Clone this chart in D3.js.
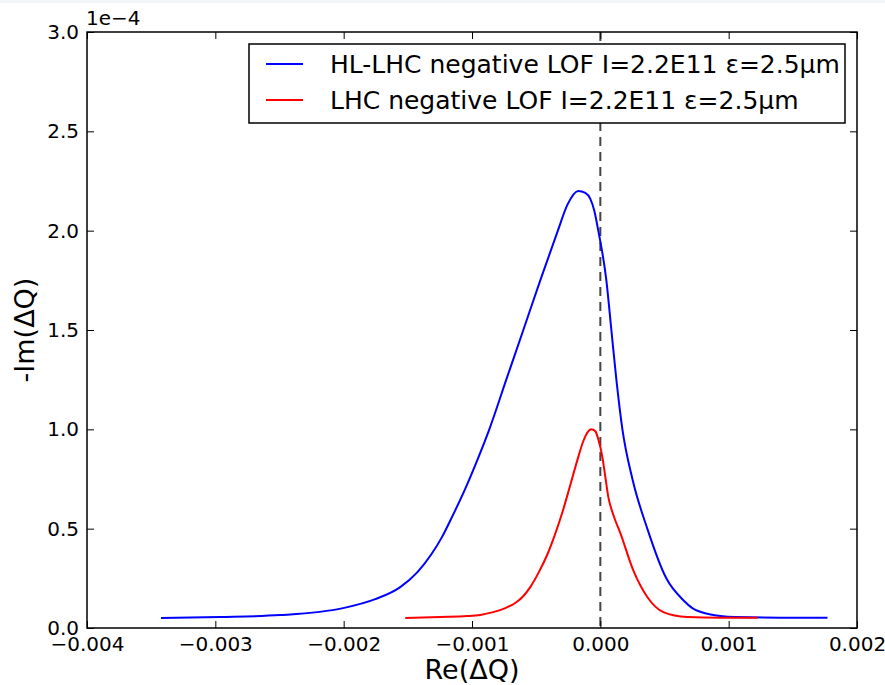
<!DOCTYPE html>
<html>
<head>
<meta charset="utf-8">
<script src="https://cdn.jsdelivr.net/npm/d3@7/dist/d3.min.js"></script>
<style>
  body { margin: 0; background: #fff; }
  text { font-family: "DejaVu Sans", sans-serif; fill: #000; }
</style>
</head>
<body>
<div id="chart"></div>
<script>
// HL-LHC curve: Re(dQ), -Im(dQ) in units of 1e-4
const hlRe = [-0.003423, -0.002963, -0.002495, -0.002004, -0.001754, -0.001559, -0.001427, -0.001318,
  -0.001232, -0.001170, -0.001053, -0.000943, -0.000865, -0.000733, -0.000600, -0.000468, -0.000331,
  -0.000257, -0.000172, -0.000117, -0.000078, -0.000047, -0.000016, 0.000047, 0.000086, 0.000125,
  0.000172, 0.000250, 0.000366, 0.000514, 0.000647, 0.000717, 0.000842, 0.000936, 0.001053, 0.001404,
  0.001770];
const hlIm = [0.050, 0.055, 0.065, 0.100, 0.145, 0.206, 0.280, 0.370,
  0.460, 0.540, 0.700, 0.870, 1.000, 1.250, 1.500, 1.750, 2.000,
  2.130, 2.200, 2.190, 2.160, 2.100, 2.000, 1.750, 1.500, 1.250,
  1.000, 0.750, 0.500, 0.250, 0.140, 0.100, 0.070, 0.060, 0.055, 0.052,
  0.052];

// LHC curve
const lhcRe = [-0.001520, -0.001248, -0.001037, -0.000936, -0.000835, -0.000741, -0.000663, -0.000601,
  -0.000546, -0.000480, -0.000413, -0.000351, -0.000292, -0.000234, -0.000179, -0.000133, -0.000094,
  -0.000070, -0.000039, -0.000016, 0.000016, 0.000039, 0.000062, 0.000101, 0.000156, 0.000257,
  0.000366, 0.000491, 0.000678, 0.000936, 0.001224];
const lhcIm = [0.050, 0.055, 0.060, 0.066, 0.080, 0.100, 0.126, 0.160,
  0.206, 0.280, 0.370, 0.475, 0.590, 0.720, 0.845, 0.940, 0.990,
  1.000, 0.990, 0.950, 0.860, 0.760, 0.660, 0.570, 0.478, 0.290,
  0.156, 0.080, 0.055, 0.051, 0.051];

const xTicks = [-0.004, -0.003, -0.002, -0.001, 0.000, 0.001, 0.002];
const yTicks = [0.0, 0.5, 1.0, 1.5, 2.0, 2.5, 3.0];
const labels = ["HL-LHC negative LOF I=2.2E11 \u03b5=2.5\u00b5m", "LHC negative LOF I=2.2E11 \u03b5=2.5\u00b5m"];
const colors = ["#0000ff", "#ff0000"];

const W = 885, H = 685;
const margin = {top: 32, right: 28, bottom: 57, left: 87};
const width = W - margin.left - margin.right,
      height = H - margin.top - margin.bottom;

const svg = d3.select("#chart").append("svg")
    .attr("width", W)
    .attr("height", H);

svg.append("rect").attr("width", W).attr("height", H).attr("fill", "#fff");
svg.append("rect").attr("width", W).attr("height", 3).attr("fill", "#f2f5f7");

const x = d3.scaleLinear().domain([-0.004, 0.002]).range([0, width]);
const y = d3.scaleLinear().domain([0, 3]).range([height, 0]);

const g = svg.append("g").attr("transform", `translate(${margin.left},${margin.top})`);

// zero line
g.append("line")
    .attr("x1", x(0)).attr("x2", x(0))
    .attr("y1", 0).attr("y2", height)
    .attr("stroke", "#444").attr("stroke-width", 2)
    .attr("stroke-dasharray", "9,6");

const line = d3.line()
    .x(d => x(d[0]))
    .y(d => y(d[1]))
    .curve(d3.curveMonotoneX);

const series = [d3.zip(hlRe, hlIm), d3.zip(lhcRe, lhcIm)];
series.forEach((s, i) => {
  g.append("path")
      .datum(s)
      .attr("fill", "none")
      .attr("stroke", colors[i])
      .attr("stroke-width", 2)
      .attr("d", line);
});

// axes, matplotlib classic style: inward ticks on all sides
const tickLen = 7;
const xAxis = d3.axisBottom(x).tickValues(xTicks).tickFormat(d3.format(".3f"))
    .tickSizeInner(-tickLen).tickSizeOuter(0).tickPadding(9);
const yAxis = d3.axisLeft(y).tickValues(yTicks).tickFormat(d3.format(".1f"))
    .tickSizeInner(-tickLen).tickSizeOuter(0).tickPadding(8);

const gx = g.append("g").attr("transform", `translate(0,${height})`).call(xAxis);
const gy = g.append("g").call(yAxis);
g.append("g").call(d3.axisTop(x).tickValues(xTicks).tickFormat("").tickSizeInner(-tickLen).tickSizeOuter(0));
g.append("g").attr("transform", `translate(${width},0)`)
    .call(d3.axisRight(y).tickValues(yTicks).tickFormat("").tickSizeInner(-tickLen).tickSizeOuter(0));

g.selectAll(".domain").remove();
g.selectAll(".tick line").attr("stroke", "#000").attr("stroke-width", 1);
gx.selectAll("text").attr("font-size", 20).attr("font-family", "DejaVu Sans").attr("fill", "#000");
gy.selectAll("text").attr("font-size", 20).attr("font-family", "DejaVu Sans").attr("fill", "#000");

// frame
g.append("rect")
    .attr("width", width).attr("height", height)
    .attr("fill", "none").attr("stroke", "#000").attr("stroke-width", 1.5);

// offset text
svg.append("text")
    .attr("x", margin.left - 1).attr("y", 25)
    .attr("font-size", 20)
    .text("1e\u22124");

// axis labels
svg.append("text")
    .attr("x", margin.left + width / 2).attr("y", 679)
    .attr("text-anchor", "middle")
    .attr("font-size", 27)
    .text("Re(\u0394Q)");

svg.append("text")
    .attr("transform", `translate(34,${margin.top + height / 2}) rotate(-90)`)
    .attr("text-anchor", "middle")
    .attr("font-size", 27)
    .text("-Im(\u0394Q)");

// legend
const leg = svg.append("g");
leg.append("rect")
    .attr("x", 249).attr("y", 44).attr("width", 596).attr("height", 79)
    .attr("fill", "#fff").attr("stroke", "#000").attr("stroke-width", 1.5);
labels.forEach((lab, i) => {
  const ly = 64 + i * 36;
  leg.append("line")
      .attr("x1", 266).attr("x2", 303).attr("y1", ly).attr("y2", ly)
      .attr("stroke", colors[i]).attr("stroke-width", 2);
  leg.append("text")
      .attr("x", 330).attr("y", ly + 9)
      .attr("font-size", 25)
      .text(lab);
});
</script>
</body>
</html>
